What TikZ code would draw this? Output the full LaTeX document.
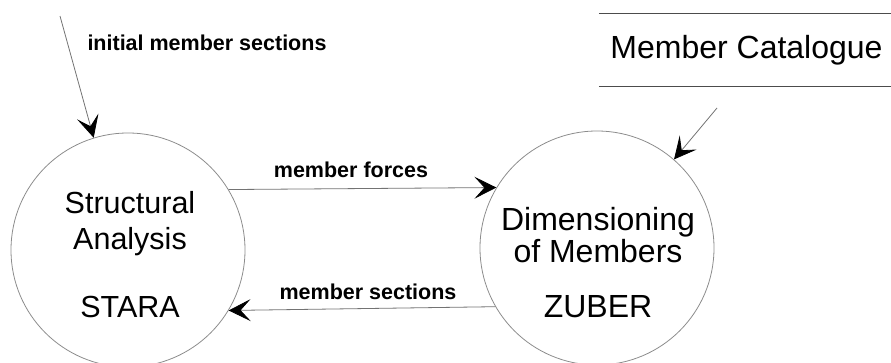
\documentclass[tikz,border=0pt]{standalone}
\usepackage{fontspec}
\setmainfont{Liberation Sans}
\usetikzlibrary{arrows.meta}
\begin{document}
\begin{tikzpicture}[x=1pt,y=-1pt,
  proc/.style={circle,draw=black!45,line width=0.8pt,minimum size=234pt,inner sep=0pt},
  bigL/.style={font=\fontsize{30.5}{30.5}\selectfont,inner sep=0pt,anchor=center},
  bigR/.style={font=\fontsize{32}{32}\selectfont,inner sep=0pt,anchor=center},
  lab/.style={font=\fontsize{21.5}{21.5}\selectfont\bfseries,inner sep=0pt,anchor=center},
  flow/.style={draw=black!55,line width=0.8pt,-{Stealth[length=22pt,width=22pt,inset=10pt,black]}},
  store/.style={minimum width=292pt,minimum height=72pt,inner sep=0pt}]
\useasboundingbox (0,0) rectangle (891,362);
% processes
\node[proc] (L) at (128,250) {};
\node[proc] (R) at (597,248) {};
\node[bigL] (t1) at (130,203) {Structural};
\node[bigL] (t2) at (130,242) {Analysis};
\node[bigL] (t3) at (130,307) {STARA};
\node[bigR] (t4) at (598,222) {Dimensioning};
\node[bigR] (t5) at (598,251) {of Members};
\node[bigR] (t6) at (598,307) {ZUBER};
% store
\node[store,font=\fontsize{32}{32}\selectfont] (cat) at (745,50) {\hspace*{3pt}Member Catalogue};
\draw[black!70,line width=0.8pt] (cat.north west) -- (cat.north east);
\draw[black!70,line width=0.8pt] (cat.south west) -- (cat.south east);
% flows
\coordinate (src) at (60,16);
\coordinate (cs) at (717,108);
\draw[flow] (src) -- (L.107.4);
\draw[flow] (cs) -- (R.49.6);
\draw[flow] (L.31.4) -- (R.149.7);
\draw[flow] (R.210.3) -- (L.329.7);
% labels
\node[lab] (l1) at (207,43) {initial member sections};
\node[lab] (l2) at (351,170) {member forces};
\node[lab] (l3) at (368,292) {member sections};
\end{tikzpicture}
\end{document}
